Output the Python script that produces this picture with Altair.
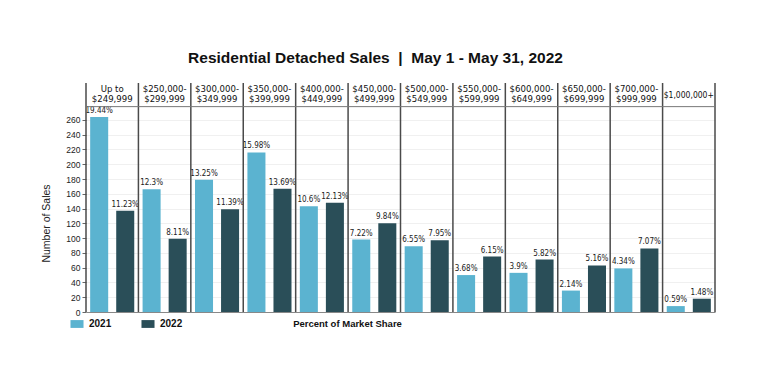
import altair as alt
import pandas as pd

columns = ["Up to\n$249,999", "$250,000-\n$299,999", "$300,000-\n$349,999", "$350,000-\n$399,999",
           "$400,000-\n$449,999", "$450,000-\n$499,999", "$500,000-\n$549,999", "$550,000-\n$599,999",
           "$600,000-\n$649,999", "$650,000-\n$699,999", "$700,000-\n$999,999", "$1,000,000+"]
sales_2021 = [264, 166, 179, 216, 143, 98, 89, 50, 53, 29, 59, 8]
sales_2022 = [137, 99, 139, 167, 148, 120, 97, 75, 71, 63, 86, 18]
pct_2021 = ["19.44%", "12.3%", "13.25%", "15.98%", "10.6%", "7.22%", "6.55%", "3.68%", "3.9%", "2.14%", "4.34%", "0.59%"]
pct_2022 = ["11.23%", "8.11%", "11.39%", "13.69%", "12.13%", "9.84%", "7.95%", "6.15%", "5.82%", "5.16%", "7.07%", "1.48%"]
years = ["2021", "2022"]
y_ticks = list(range(0, 261, 20))

rows = []
for i, c in enumerate(columns):
    rows.append({"col": c, "year": "2021", "sales": sales_2021[i], "pct": pct_2021[i]})
    rows.append({"col": c, "year": "2022", "sales": sales_2022[i], "pct": pct_2022[i]})
df = pd.DataFrame(rows)
hdr = pd.DataFrame({"col": columns})
hdr_two = hdr[hdr["col"].str.contains("\n")]
hdr_one = hdr[~hdr["col"].str.contains("\n")]

FONT = "Liberation Sans"
NARROW = "DejaVu Sans Condensed"
xs = alt.Scale(domain=columns, paddingInner=0, paddingOuter=0)
ys = alt.Scale(domain=[0, 310], nice=False)
xo = alt.XOffset("year:N", scale=alt.Scale(paddingInner=0.308, paddingOuter=0.16))

bars = alt.Chart(df).mark_bar().encode(
    x=alt.X("col:N", scale=xs, sort=columns,
            axis=alt.Axis(labels=False, ticks=False, domainColor="#888888", title="Percent of Market Share",
                          titleFont=FONT, titleFontSize=9.5, titleFontWeight="bold", titleColor="#111111",
                          titleX=261, titleY=11.5, titleBaseline="middle", titleAlign="center")),
    xOffset=xo,
    y=alt.Y("sales:Q", scale=ys,
            axis=alt.Axis(values=y_ticks, tickCount=20, title="Number of Sales", titleFont=FONT,
                          titleFontSize=10.5, titleFontWeight="normal", titleColor="#222222", titlePadding=14,
                          labelFont=FONT, labelFontSize=8.5, labelColor="#222222", tickColor="#666666",
                          tickSize=4, domain=False, gridColor="#f0f0f0", titleY=140, labelOverlap=False)),
    color=alt.Color("year:N", scale=alt.Scale(domain=years, range=["#5bb3d0", "#2a4e58"]),
                    legend=alt.Legend(title=None, orient="none", legendX=-16, legendY=234, direction="horizontal",
                                      symbolType="M-1,-0.6L1,-0.6L1,0.6L-1,0.6Z", symbolSize=170,
                                      symbolStrokeWidth=0, labelFont=FONT, labelFontSize=10,
                                      labelFontWeight="bold", labelColor="#111111", columnPadding=29,
                                      labelOffset=5)),
)

labels = alt.Chart(df).mark_text(baseline="bottom", dy=-2, font=NARROW, fontSize=8, color="#222222").encode(
    x=alt.X("col:N", scale=xs, sort=columns),
    xOffset=xo,
    y=alt.Y("sales:Q", scale=ys),
    text="pct:N",
)

seps = alt.Chart(hdr).mark_rule(color="#4a4a4a", strokeWidth=1.5).encode(
    x=alt.X("col:N", scale=xs, sort=columns, bandPosition=0),
    y=alt.datum(0), y2=alt.datum(310),
)
last_sep = alt.Chart(hdr.tail(1)).mark_rule(color="#4a4a4a", strokeWidth=1.5).encode(
    x=alt.X("col:N", scale=xs, sort=columns, bandPosition=1),
    y=alt.datum(0), y2=alt.datum(310),
)
hline = alt.Chart(hdr.head(1)).mark_rule(color="#777777", strokeWidth=1).encode(y=alt.datum(278))

hdr_text2 = alt.Chart(hdr_two).mark_text(lineBreak="\n", baseline="middle", font=NARROW, fontSize=9.5,
                                         color="#111111", lineHeight=10.5).encode(
    x=alt.X("col:N", scale=xs, sort=columns),
    y=alt.datum(302),
    text="col:N",
)
hdr_text1 = alt.Chart(hdr_one).mark_text(baseline="middle", font=NARROW, fontSize=8.5,
                                         color="#111111").encode(
    x=alt.X("col:N", scale=xs, sort=columns),
    y=alt.datum(294),
    text="col:N",
)

chart = alt.layer(bars, labels, seps, last_sep, hline, hdr_text2, hdr_text1).properties(
    width=629, height=229,
    autosize=alt.AutoSizeParams(type="none"),
    padding={"left": 78, "top": 75, "right": 30, "bottom": 50},
    title=alt.TitleParams("Residential Detached Sales\u00a0\u00a0|\u00a0\u00a0May 1 - May 31, 2022", font=FONT,
                          fontSize=15.5, fontWeight="bold", color="#111111", offset=16, dx=-25),
).configure_view(stroke=None)

chart.save("out.html", embed_options={"renderer": "svg", "actions": False})
